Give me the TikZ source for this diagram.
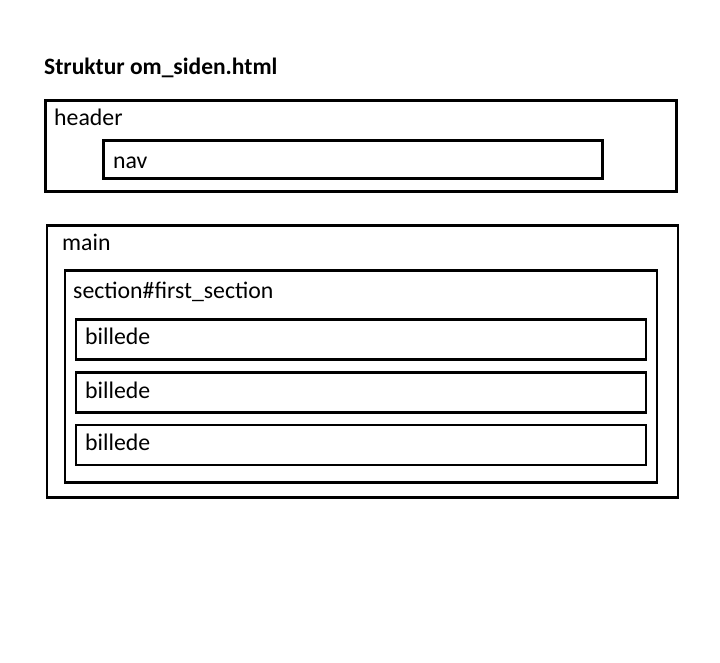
\documentclass[tikz,border=0pt]{standalone}
\usepackage{fontspec}
\setmainfont{Carlito}
\begin{document}
\begin{tikzpicture}[x=1pt,y=-1pt,
  box/.style={draw,line width=2.6pt,inner sep=0pt,outer sep=0pt,anchor=north west},
  lbl/.style={anchor=base west,inner sep=0pt,font=\fontsize{23.8}{26}\selectfont},
  ttl/.style={anchor=base west,inner sep=0pt,font=\bfseries\fontsize{23.5}{26}\selectfont}]
\path[use as bounding box] (0,0) rectangle (720,663);
\node[ttl] (title) at (44,75) {Struktur om\_siden.html};
% header
\node[box,minimum width=631pt,minimum height=91pt] (header) at (45.5,100.5) {};
\node[lbl] (headerlbl) at (54,126) {header};
\node[box,minimum width=499pt,minimum height=38pt] (nav) at (103.5,140.5) {};
\node[lbl] (navlbl) at (113,169) {nav};
% main
\node[box,minimum width=631pt,minimum height=272pt] (main) at (47,225.5) {};
\node[lbl] (mainlbl) at (62,251) {main};
\node[box,minimum width=592pt,minimum height=212pt] (section) at (65,270.5) {};
\node[lbl] (sectionlbl) at (73,298) {section\#first\_section};
\node[box,minimum width=570pt,minimum height=40pt] (b1) at (76,319.5) {};
\node[lbl] (b1lbl) at (85,344) {billede};
\node[box,minimum width=570pt,minimum height=40pt] (b2) at (76,372.5) {};
\node[lbl] (b2lbl) at (85,398) {billede};
\node[box,minimum width=570pt,minimum height=40pt] (b3) at (76,425) {};
\node[lbl] (b3lbl) at (85,450) {billede};
\end{tikzpicture}
\end{document}
